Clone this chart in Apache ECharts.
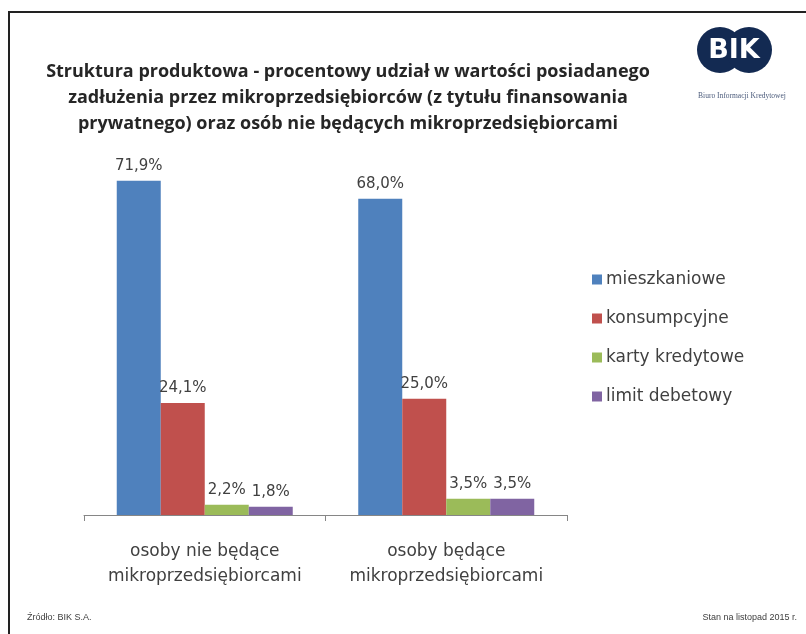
<!DOCTYPE html>
<html>
<head>
<meta charset="utf-8">
<script src="https://cdn.jsdelivr.net/npm/echarts@6/dist/echarts.min.js"></script>
<style>
  html, body { margin: 0; padding: 0; background: #fff; }
  #chart { width: 806px; height: 634px; }
</style>
</head>
<body>
<div id="chart"></div>
<script>
const categories = ['osoby nie będące\nmikroprzedsiębiorcami', 'osoby będące\nmikroprzedsiębiorcami'];
const seriesNames = ['mieszkaniowe', 'konsumpcyjne', 'karty kredytowe', 'limit debetowy'];
const mieszkaniowe = [71.9, 68.0];
const konsumpcyjne = [24.1, 25.0];
const kartyKredytowe = [2.2, 3.5];
const limitDebetowy = [1.8, 3.5];
const colors = ['#4F81BD', '#C0504D', '#9BBB59', '#8064A2'];

const titleLines = [
  'Struktura produktowa - procentowy udział w wartości posiadanego',
  'zadłużenia przez mikroprzedsiębiorców (z tytułu finansowania',
  'prywatnego) oraz osób nie będących mikroprzedsiębiorcami'
];

const chart = echarts.init(document.getElementById('chart'));

function makeSeries(name, data, color) {
  return {
    name,
    type: 'bar',
    data,
    barWidth: 44,
    barGap: '0%',
    animation: false,
    itemStyle: { color },
    label: {
      show: true,
      position: 'top',
      distance: 7,
      fontFamily: 'DejaVu Sans',
      fontSize: 15,
      color: '#404040',
      formatter: p => p.value.toFixed(1).replace('.', ',') + '%'
    }
  };
}

chart.setOption({
  backgroundColor: '#fff',
  title: {
    text: titleLines.join('\n'),
    left: 343,
    textAlign: 'center',
    top: 54,
    textStyle: {
      fontFamily: 'Open Sans',
      fontWeight: 'bold',
      fontSize: 18,
      lineHeight: 26,
      color: '#262626'
    }
  },
  legend: {
    orient: 'vertical',
    left: 587,
    top: 266,
    itemWidth: 10,
    itemHeight: 10,
    itemGap: 22,
    icon: 'rect',
    data: seriesNames,
    textStyle: { fontFamily: 'DejaVu Sans', fontSize: 17, color: '#404040', padding: [0, 0, 0, -1] }
  },
  grid: { left: 84, right: 239, top: 143, bottom: 119 },
  xAxis: {
    type: 'category',
    data: categories,
    axisLine: { lineStyle: { color: '#868686', width: 1 } },
    axisTick: { show: true, interval: 0, length: 6, lineStyle: { color: '#868686' } },
    axisLabel: {
      interval: 0,
      hideOverlap: false,
      fontFamily: 'DejaVu Sans',
      fontSize: 17,
      lineHeight: 25,
      color: '#404040',
      margin: 24
    }
  },
  yAxis: {
    type: 'value',
    min: 0,
    max: 80,
    show: false
  },
  series: [
    makeSeries(seriesNames[0], mieszkaniowe, colors[0]),
    makeSeries(seriesNames[1], konsumpcyjne, colors[1]),
    makeSeries(seriesNames[2], kartyKredytowe, colors[2]),
    makeSeries(seriesNames[3], limitDebetowy, colors[3])
  ],
  graphic: [
    // slide frame (top and left edges)
    { type: 'line', shape: { x1: 8, y1: 12, x2: 806, y2: 12 }, style: { stroke: '#222', lineWidth: 2 } },
    { type: 'line', shape: { x1: 9, y1: 12, x2: 9, y2: 634 }, style: { stroke: '#222', lineWidth: 2 } },
    // BIK logo
    { type: 'circle', shape: { cx: 720, cy: 50, r: 23 }, style: { fill: '#132a52' } },
    { type: 'circle', shape: { cx: 749, cy: 50, r: 23 }, style: { fill: '#132a52' } },
    { type: 'text', x: 734, y: 51, style: { text: 'BIK', fill: '#fff', font: 'bold 27px "DejaVu Sans"', align: 'center', verticalAlign: 'middle' } },
    { type: 'text', x: 742, y: 96, style: { text: 'Biuro Informacji Kredytowej', fill: '#4a5a7a', font: '7.5px "Liberation Serif"', align: 'center', verticalAlign: 'middle' } },
    // footer
    { type: 'text', x: 27, y: 618, style: { text: 'Źródło: BIK S.A.', fill: '#404040', font: '9px "Liberation Sans"', verticalAlign: 'middle' } },
    { type: 'text', x: 797, y: 618, style: { text: 'Stan na listopad 2015 r.', fill: '#404040', font: '9px "Liberation Sans"', align: 'right', verticalAlign: 'middle' } }
  ]
});
</script>
</body>
</html>
